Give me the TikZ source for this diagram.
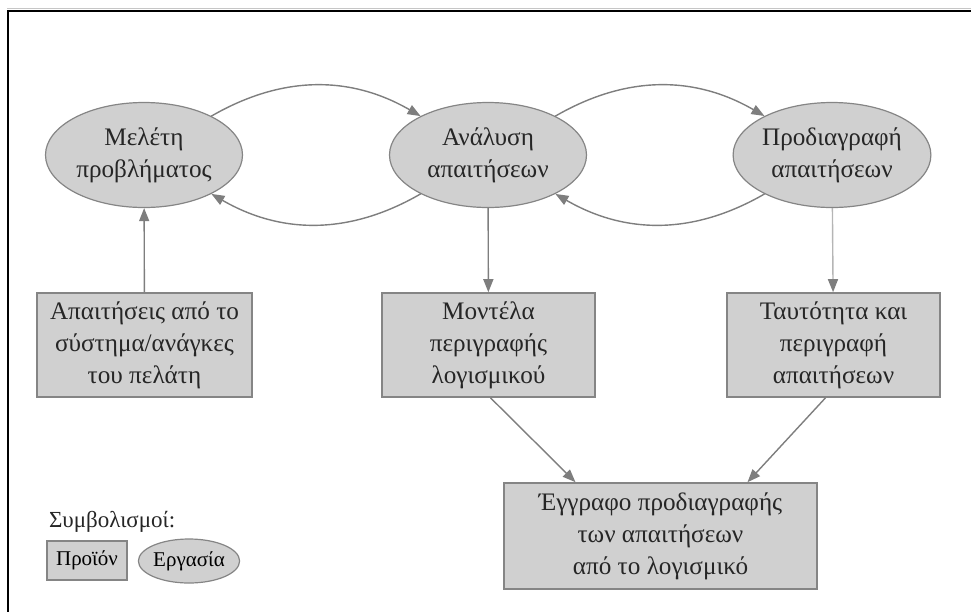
\documentclass[tikz,border=0pt]{standalone}
\usepackage{fontspec}
\setmainfont{Liberation Serif}
\usetikzlibrary{shapes.geometric,arrows.meta,calc}

\definecolor{shapefill}{HTML}{D0D0D0}
\definecolor{shapeline}{HTML}{858585}
\definecolor{linkcol}{HTML}{7E7E7E}
\definecolor{lightlink}{HTML}{B5B5B5}
\definecolor{txtcol}{HTML}{262626}

\tikzset{
  txt/.style={font=\fontsize{12.6}{16}\selectfont, text=txtcol, align=center},
  task/.style={txt, ellipse, draw=shapeline, fill=shapefill, line width=0.6pt,
               inner sep=0pt, minimum width=98.5pt, minimum height=52.5pt},
  product/.style={txt, rectangle, draw=shapeline, fill=shapefill, line width=0.8pt,
                  inner sep=0pt, minimum height=52pt},
  link/.style={draw=linkcol, line width=0.7pt,
               -{Triangle[length=6.5pt,width=5pt]}},
  legendfont/.style={font=\fontsize{10.5}{12}\selectfont, text=black},
}

\begin{document}
\begin{tikzpicture}[x=0.5pt,y=-0.5pt]
  \useasboundingbox (0,0) rectangle (971,612);
  % page frame
  \draw[gray!45, line width=0.5pt] (7,8) -- (971,8);
  \draw[black, line width=1pt] (971,10.5) -- (7.5,10.5) -- (7.5,612);

  % tasks
  \node[task] (study) at (144,155) {Μελέτη\\προβλήματος};
  \node[task] (analysis) at (488,155) {Ανάλυση\\απαιτήσεων};
  \node[task] (spec) at (832,155) {Προδιαγραφή\\απαιτήσεων};

  % products
  \node[product, minimum width=107.5pt] (needs) at (144.5,345)
    {Απαιτήσεις από το\\σύστημα/ανάγκες\\του πελάτη};
  \node[product, minimum width=106.5pt] (models) at (488.5,345)
    {Μοντέλα\\περιγραφής\\λογισμικού};
  \node[product, minimum width=106.5pt] (ident) at (833.5,345)
    {Ταυτότητα και\\περιγραφή\\απαιτήσεων};
  \node[product, minimum width=156.5pt, minimum height=53pt] (doc) at (660.5,536)
    {Έγγραφο προδιαγραφής\\των απαιτήσεων\\από το λογισμικό};

  % iteration between tasks
  \draw[link] (study) to[bend left=30] (analysis);
  \draw[link] (analysis) to[bend left=30] (study);
  \draw[link] (analysis) to[bend left=30] (spec);
  \draw[link] (spec) to[bend left=30] (analysis);

  % inputs and outputs
  \draw[link] (needs) -- (study);
  \draw[link] (analysis) -- (models);
  \draw[draw=lightlink, line width=0.7pt,
        -{Triangle[length=6.5pt,width=5pt,color=linkcol]}] (spec) -- (ident);
  \coordinate (docL) at ([xshift=-42.5pt]doc.north);
  \coordinate (docR) at ([xshift=43.5pt]doc.north);
  \draw[link] ([xshift=1pt]models.south) -- (docL);
  \draw[link] ([xshift=-4pt]ident.south) -- (docR);

  % legend
  \node[txt, font=\fontsize{11.5}{14}\selectfont, anchor=west] (legend) at (42,522) {Συμβολισμοί:};
  \node[product, legendfont,
        minimum width=40pt, minimum height=19.5pt] (prod) at (87,560.5) {Προϊόν};
  \node[task, legendfont,
        minimum width=42pt, minimum height=22pt] (work) at (189,561) {Εργασία};
\end{tikzpicture}
\end{document}
